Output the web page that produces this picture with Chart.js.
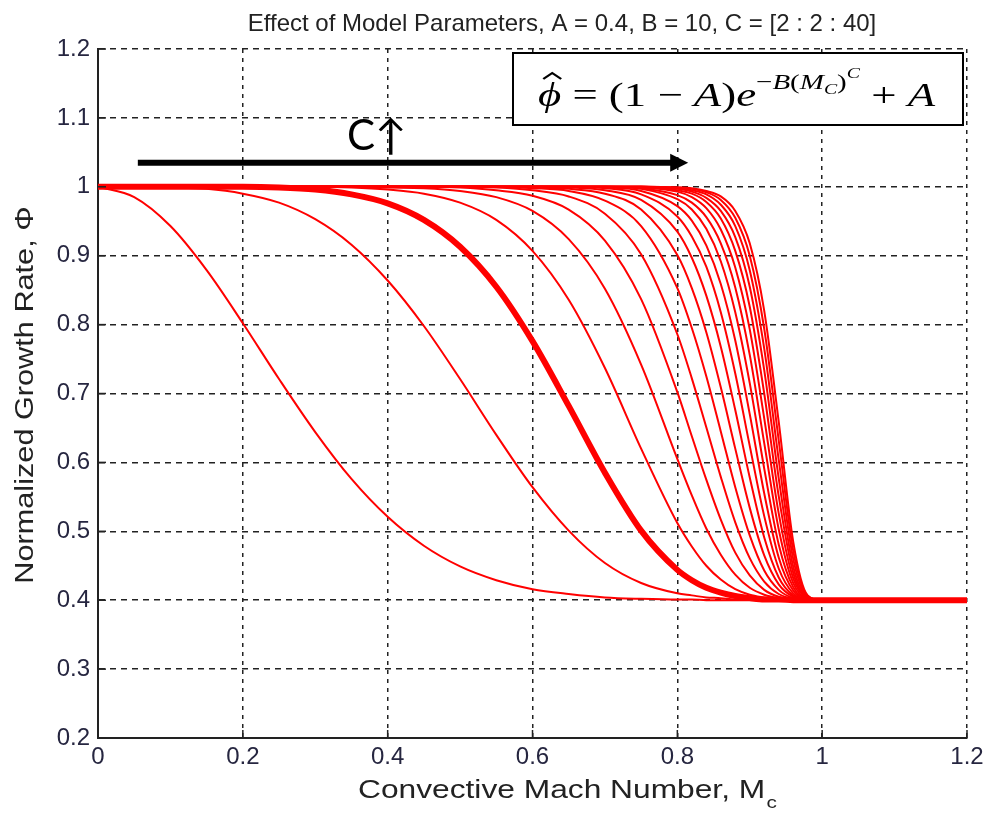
<!DOCTYPE html>
<html>
<head>
<meta charset="utf-8">
<script src="https://cdn.jsdelivr.net/npm/chart.js@4.4.1/dist/chart.umd.min.js"></script>
<style>
  body { margin: 0; background: #fff; }
  #wrap { width: 989px; height: 814px; position: relative; }
</style>
</head>
<body>
<div id="wrap"><canvas id="growthChart"></canvas></div>
<script>
// Convective Mach number where each curve was read
const mach = [0, 0.05, 0.1, 0.15, 0.2, 0.25, 0.3, 0.35, 0.4, 0.45, 0.5, 0.55, 0.6, 0.65, 0.7, 0.75,
              0.8, 0.82, 0.84, 0.86, 0.88, 0.9, 0.92, 0.94, 0.96, 0.98, 1.0, 1.2];

// Normalized growth rate, one array per exponent C
const c2  = [1, 0.985, 0.943, 0.879, 0.802, 0.721, 0.644, 0.576, 0.521, 0.479, 0.449, 0.429, 0.416, 0.409, 0.404, 0.402, 0.401, 0.401, 0.4, 0.4, 0.4, 0.4, 0.4, 0.4, 0.4, 0.4, 0.4, 0.4];
const c4  = [1, 1, 0.999, 0.997, 0.990, 0.977, 0.953, 0.916, 0.864, 0.798, 0.721, 0.640, 0.564, 0.501, 0.454, 0.425, 0.410, 0.407, 0.404, 0.403, 0.401, 0.401, 0.4, 0.4, 0.4, 0.4, 0.4, 0.4];
const c6  = [1, 1, 1, 1, 1, 0.999, 0.996, 0.989, 0.976, 0.952, 0.913, 0.855, 0.776, 0.682, 0.585, 0.501, 0.444, 0.429, 0.418, 0.411, 0.406, 0.403, 0.401, 0.401, 0.4, 0.4, 0.4, 0.4];
const c8  = [1, 1, 1, 1, 1, 1, 1, 0.999, 0.996, 0.990, 0.977, 0.952, 0.907, 0.836, 0.737, 0.620, 0.512, 0.478, 0.450, 0.430, 0.416, 0.408, 0.404, 0.401, 0.4, 0.4, 0.4, 0.4];
const c10 = [1, 1, 1, 1, 1, 1, 1, 1, 0.999, 0.998, 0.994, 0.985, 0.965, 0.924, 0.852, 0.742, 0.605, 0.552, 0.504, 0.466, 0.437, 0.418, 0.408, 0.403, 0.401, 0.4, 0.4, 0.4];
const c12 = [1, 1, 1, 1, 1, 1, 1, 1, 1, 1, 0.999, 0.995, 0.987, 0.967, 0.922, 0.837, 0.702, 0.638, 0.575, 0.517, 0.469, 0.436, 0.415, 0.405, 0.401, 0.4, 0.4, 0.4];
const c14 = [1, 1, 1, 1, 1, 1, 1, 1, 1, 1, 1, 0.999, 0.995, 0.986, 0.961, 0.902, 0.786, 0.722, 0.651, 0.579, 0.513, 0.461, 0.427, 0.409, 0.402, 0.4, 0.4, 0.4];
const c16 = [1, 1, 1, 1, 1, 1, 1, 1, 1, 1, 1, 1, 0.998, 0.994, 0.980, 0.943, 0.853, 0.795, 0.725, 0.645, 0.564, 0.494, 0.443, 0.415, 0.403, 0.4, 0.4, 0.4];
const c18 = [1, 1, 1, 1, 1, 1, 1, 1, 1, 1, 1, 1, 0.999, 0.997, 0.990, 0.967, 0.901, 0.853, 0.789, 0.709, 0.620, 0.534, 0.465, 0.423, 0.405, 0.401, 0.4, 0.4];
const c20 = [1, 1, 1, 1, 1, 1, 1, 1, 1, 1, 1, 1, 1, 0.999, 0.995, 0.981, 0.935, 0.897, 0.842, 0.768, 0.676, 0.578, 0.491, 0.433, 0.407, 0.401, 0.4, 0.4];
const c22 = [1, 1, 1, 1, 1, 1, 1, 1, 1, 1, 1, 1, 1, 1, 0.998, 0.989, 0.957, 0.928, 0.884, 0.818, 0.729, 0.624, 0.522, 0.446, 0.410, 0.401, 0.4, 0.4];
const c24 = [1, 1, 1, 1, 1, 1, 1, 1, 1, 1, 1, 1, 1, 1, 0.999, 0.994, 0.972, 0.951, 0.915, 0.859, 0.777, 0.670, 0.555, 0.462, 0.414, 0.401, 0.4, 0.4];
const c26 = [1, 1, 1, 1, 1, 1, 1, 1, 1, 1, 1, 1, 1, 1, 1, 0.997, 0.982, 0.967, 0.939, 0.892, 0.818, 0.715, 0.591, 0.481, 0.419, 0.402, 0.4, 0.4];
const c28 = [1, 1, 1, 1, 1, 1, 1, 1, 1, 1, 1, 1, 1, 1, 1, 0.998, 0.988, 0.977, 0.956, 0.918, 0.854, 0.756, 0.628, 0.503, 0.425, 0.402, 0.4, 0.4];
const c30 = [1, 1, 1, 1, 1, 1, 1, 1, 1, 1, 1, 1, 1, 1, 1, 0.999, 0.993, 0.985, 0.969, 0.938, 0.883, 0.793, 0.664, 0.526, 0.432, 0.403, 0.4, 0.4];
const c32 = [1, 1, 1, 1, 1, 1, 1, 1, 1, 1, 1, 1, 1, 1, 1, 1, 0.995, 0.990, 0.978, 0.954, 0.907, 0.826, 0.700, 0.551, 0.440, 0.403, 0.4, 0.4];
const c34 = [1, 1, 1, 1, 1, 1, 1, 1, 1, 1, 1, 1, 1, 1, 1, 1, 0.997, 0.993, 0.984, 0.965, 0.927, 0.855, 0.734, 0.577, 0.449, 0.404, 0.4, 0.4];
const c36 = [1, 1, 1, 1, 1, 1, 1, 1, 1, 1, 1, 1, 1, 1, 1, 1, 0.998, 0.995, 0.989, 0.974, 0.943, 0.879, 0.765, 0.604, 0.460, 0.405, 0.4, 0.4];
const c38 = [1, 1, 1, 1, 1, 1, 1, 1, 1, 1, 1, 1, 1, 1, 1, 1, 0.999, 0.997, 0.992, 0.981, 0.955, 0.900, 0.794, 0.632, 0.472, 0.406, 0.4, 0.4];
const c40 = [1, 1, 1, 1, 1, 1, 1, 1, 1, 1, 1, 1, 1, 1, 1, 1, 0.999, 0.998, 0.994, 0.986, 0.965, 0.918, 0.820, 0.659, 0.485, 0.407, 0.4, 0.4];

const exponents = [2, 4, 6, 8, 10, 12, 14, 16, 18, 20, 22, 24, 26, 28, 30, 32, 34, 36, 38, 40];
const curves = [c2, c4, c6, c8, c10, c12, c14, c16, c18, c20, c22, c24, c26, c28, c30, c32, c34, c36, c38, c40];
const boldC = 6;

const titleText = "Effect of Model Parameters, A = 0.4, B = 10, C = [2 : 2 : 40]";
const xTitle = "Convective Mach Number, M";
const yTitle = "Normalized Growth Rate, \u03A6";

const sans = "'Liberation Sans', Arial, sans-serif";
const serif = "'Liberation Serif', 'DejaVu Serif', serif";

const datasets = curves.map((ys, i) => ({
  label: "C = " + exponents[i],
  data: mach.map((m, j) => ({ x: m, y: ys[j] })),
  borderColor: "#ff0000",
  borderWidth: exponents[i] === boldC ? 6 : 2,
  order: exponents[i] === boldC ? 0 : 1,
  pointRadius: 0,
  cubicInterpolationMode: "monotone",
  fill: false
}));

// titles, inward ticks, the C arrow and the formula box
const decorations = {
  id: "decorations",
  afterDraw(chart) {
    const ctx = chart.ctx;
    const a = chart.chartArea;
    const xs = chart.scales.x, ys = chart.scales.y;
    ctx.save();
    ctx.setLineDash([]);

    // inward tick marks
    ctx.strokeStyle = "#222";
    ctx.lineWidth = 1.5;
    xs.ticks.forEach(t => {
      const px = xs.getPixelForValue(t.value);
      ctx.beginPath(); ctx.moveTo(px, a.bottom); ctx.lineTo(px, a.bottom - 8); ctx.stroke();
    });
    ys.ticks.forEach(t => {
      const py = ys.getPixelForValue(t.value);
      ctx.beginPath(); ctx.moveTo(a.left, py); ctx.lineTo(a.left + 8, py); ctx.stroke();
    });

    // chart title
    ctx.fillStyle = "#222";
    ctx.font = "24px " + sans;
    ctx.textAlign = "center";
    ctx.textBaseline = "alphabetic";
    ctx.fillText(titleText, 562, 31);

    // x title with subscript c, a little wider than plain Arial
    ctx.save();
    ctx.translate(358, 798);
    ctx.scale(1.22, 1);
    ctx.textAlign = "left";
    ctx.font = "26px " + sans;
    const w1 = ctx.measureText(xTitle).width;
    ctx.fillText(xTitle, 0, 0);
    ctx.font = "17px " + sans;
    ctx.fillText("c", w1 + 1, 10);
    ctx.restore();

    // y title
    ctx.save();
    ctx.translate(33, 395);
    ctx.rotate(-Math.PI / 2);
    ctx.scale(1.18, 1);
    ctx.textAlign = "center";
    ctx.font = "26px " + sans;
    ctx.fillText(yTitle, 0, 0);
    ctx.restore();

    // arrow showing C increasing
    const ax0 = xs.getPixelForValue(0.055), ax1 = xs.getPixelForValue(0.815);
    const ay = ys.getPixelForValue(1.035);
    ctx.strokeStyle = "#000";
    ctx.fillStyle = "#000";
    ctx.lineWidth = 6;
    ctx.beginPath(); ctx.moveTo(ax0, ay); ctx.lineTo(ax1 - 14, ay); ctx.stroke();
    ctx.beginPath();
    ctx.moveTo(ax1, ay); ctx.lineTo(ax1 - 18, ay - 9); ctx.lineTo(ax1 - 18, ay + 9); ctx.closePath();
    ctx.fill();
    ctx.font = "42px Lato, 'DejaVu Sans', sans-serif";
    ctx.textAlign = "center";
    ctx.fillText("C\u2191", xs.getPixelForValue(0.385), ys.getPixelForValue(1.053));

    // formula box
    const bx = 513, by = 53, bw = 450, bh = 72;
    ctx.fillStyle = "#fff";
    ctx.fillRect(bx, by, bw, bh);
    ctx.strokeStyle = "#000";
    ctx.lineWidth = 2;
    ctx.strokeRect(bx, by, bw, bh);

    const big = 34, sup = 22, tiny = 15;
    const parts = [
      { t: "\u03D5", s: big, it: true, dy: 0, hat: true },
      { t: " = (1 \u2212 ", s: big, it: false, dy: 0 },
      { t: "A", s: big, it: true, dy: 0 },
      { t: ")", s: big, it: false, dy: 0 },
      { t: "e", s: big, it: true, dy: 0 },
      { t: "\u2212", s: sup, it: false, dy: -17 },
      { t: "B", s: sup, it: true, dy: -17 },
      { t: "(", s: sup, it: false, dy: -17 },
      { t: "M", s: sup, it: true, dy: -17 },
      { t: "C", s: tiny, it: true, dy: -12 },
      { t: ")", s: sup, it: false, dy: -17 },
      { t: "C", s: tiny, it: true, dy: -28 },
      { t: " + ", s: big, it: false, dy: 0 },
      { t: "A", s: big, it: true, dy: 0 }
    ];
    ctx.textAlign = "left";
    let total = 0;
    parts.forEach(p => {
      ctx.font = (p.it ? "italic " : "") + p.s + "px " + serif;
      p.w = ctx.measureText(p.t).width;
      total += p.w;
    });
    ctx.save();
    ctx.translate(538, 106);
    ctx.scale(397 / total, 1);
    ctx.fillStyle = "#000";
    let cx = 0;
    parts.forEach(p => {
      ctx.font = (p.it ? "italic " : "") + p.s + "px " + serif;
      ctx.fillText(p.t, cx, p.dy);
      if (p.hat) {
        ctx.lineWidth = 1.8;
        ctx.beginPath();
        ctx.moveTo(cx + 4, -27); ctx.lineTo(cx + p.w / 2 + 2, -33); ctx.lineTo(cx + p.w, -27);
        ctx.stroke();
      }
      cx += p.w;
    });
    ctx.restore();

    ctx.restore();
  }
};

new Chart(document.getElementById("growthChart"), {
  type: "line",
  data: { datasets: datasets },
  plugins: [decorations],
  options: {
    responsive: true,
    maintainAspectRatio: false,
    animation: false,
    layout: { padding: { top: 49, right: 22, left: 0, bottom: 0 } },
    plugins: {
      legend: { display: false },
      tooltip: { enabled: false },
      title: { display: false }
    },
    scales: {
      x: {
        type: "linear",
        min: 0,
        max: 1.2,
        afterFit: s => { s.height = 76; },
        ticks: {
          stepSize: 0.2,
          padding: 5,
          color: "#262640",
          font: { family: sans, size: 24 },
          maxRotation: 0,
          callback: v => String(+v.toFixed(1))
        },
        grid: { color: "#222", lineWidth: 1.5, drawTicks: false },
        border: { display: true, color: "#222", width: 2, dash: [4, 5] }
      },
      y: {
        min: 0.2,
        max: 1.2,
        afterFit: s => { s.width = 98; },
        ticks: {
          stepSize: 0.1,
          padding: 8,
          color: "#262640",
          font: { family: sans, size: 24 },
          callback: v => String(+v.toFixed(1))
        },
        grid: { color: "#222", lineWidth: 1.5, drawTicks: false },
        border: { display: true, color: "#222", width: 2, dash: [6, 5] }
      }
    }
  }
});
</script>
</body>
</html>
